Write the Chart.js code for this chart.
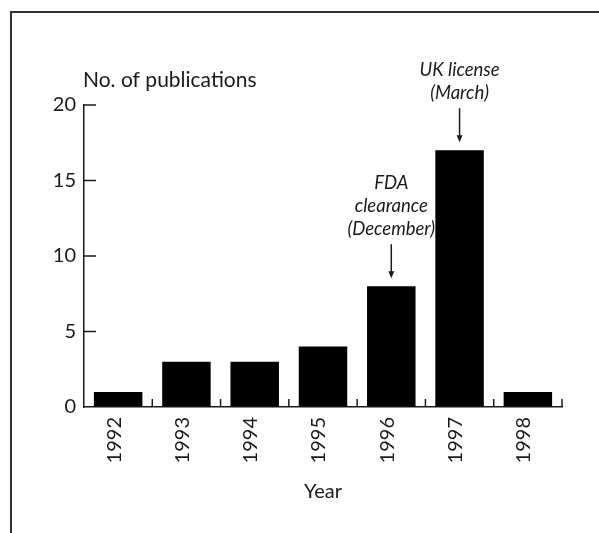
<!DOCTYPE html>
<html>
<head>
<meta charset="utf-8">
<script src="https://cdn.jsdelivr.net/npm/chart.js@4.4.1/dist/chart.umd.min.js"></script>
<style>
  html, body { margin: 0; padding: 0; background: #fff; }
  #wrap { width: 599px; height: 533px; position: relative; }
</style>
</head>
<body>
<div id="wrap"><canvas id="pubs" width="599" height="533"></canvas></div>
<script>
// Publications per year
const years = ['1992', '1993', '1994', '1995', '1996', '1997', '1998'];
const publications = [1, 3, 3, 4, 8, 17, 1];
const yTicks = [0, 5, 10, 15, 20];

// notes with arrows pointing at bars
const noteYears = ['1996', '1997'];
const noteLines = [
  ['FDA', 'clearance', '(December)'],
  ['UK license', '(March)']
];

const yTitle = 'No. of publications';
const xTitle = 'Year';

const ink = '#1a1a1a';

const framePlugin = {
  id: 'frame',
  beforeDraw(chart) {
    const ctx = chart.ctx;
    ctx.save();
    ctx.fillStyle = '#fff';
    ctx.fillRect(0, 0, chart.width, chart.height);
    ctx.strokeStyle = '#333';
    ctx.lineWidth = 2;
    ctx.beginPath();
    ctx.moveTo(11, chart.height);
    ctx.lineTo(11, 12);
    ctx.lineTo(chart.width, 12);
    ctx.stroke();
    ctx.restore();
  }
};

// inward tick marks, y-axis title and the arrow notes
const extrasPlugin = {
  id: 'extras',
  afterDraw(chart) {
    const ctx = chart.ctx;
    const xs = chart.scales.x;
    const ys = chart.scales.y;
    ctx.save();
    ctx.strokeStyle = ink;
    ctx.lineWidth = 1.5;

    // y ticks pointing right
    yTicks.forEach(v => {
      if (v === 0) return;
      const py = ys.getPixelForValue(v);
      ctx.beginPath();
      ctx.moveTo(xs.left, py);
      ctx.lineTo(xs.left + 12, py);
      ctx.stroke();
    });

    // x ticks between categories pointing up
    for (let i = 1; i <= years.length; i++) {
      const px = xs.getPixelForValue(i - 0.5);
      ctx.beginPath();
      ctx.moveTo(px, ys.bottom);
      ctx.lineTo(px, ys.bottom - 8);
      ctx.stroke();
    }

    // y title
    ctx.fillStyle = ink;
    ctx.font = '21px Lato';
    ctx.textAlign = 'left';
    ctx.textBaseline = 'alphabetic';
    ctx.fillText(yTitle, 83, 87);

    // notes
    ctx.font = 'italic 18.5px Lato';
    ctx.textAlign = 'center';
    ctx.textBaseline = 'middle';
    noteYears.forEach((yr, k) => {
      const idx = years.indexOf(yr);
      const px = xs.getPixelForValue(idx);
      const top = ys.getPixelForValue(publications[idx]);
      const tip = top - 8;
      const tail = tip - 34;
      ctx.beginPath();
      ctx.moveTo(px, tail);
      ctx.lineTo(px, tip - 5);
      ctx.stroke();
      ctx.beginPath();
      ctx.moveTo(px, tip);
      ctx.lineTo(px - 3, tip - 7);
      ctx.lineTo(px + 3, tip - 7);
      ctx.closePath();
      ctx.fill();
      const lines = noteLines[k];
      lines.forEach((t, j) => {
        const ly = tail - 15 - (lines.length - 1 - j) * 23;
        ctx.fillText(t, px, ly);
      });
    });
    ctx.restore();
  }
};

Chart.defaults.font.family = 'Lato';
Chart.defaults.color = ink;

new Chart(document.getElementById('pubs'), {
  type: 'bar',
  data: {
    labels: years,
    datasets: [{
      label: 'Publications',
      data: publications,
      backgroundColor: '#000',
      borderColor: '#000',
      borderWidth: 0,
      categoryPercentage: 1,
      barPercentage: 0.71
    }]
  },
  options: {
    responsive: false,
    animation: false,
    devicePixelRatio: 1,
    layout: { padding: { top: 105, right: 37, left: 0, bottom: 0 } },
    plugins: {
      legend: { display: false },
      tooltip: { enabled: false }
    },
    scales: {
      x: {
        afterFit(scale) { scale.height = 126; },
        grid: { display: true, drawOnChartArea: false, drawTicks: false },
        border: { display: true, color: ink, width: 1.5 },
        ticks: {
          font: { size: 20 },
          color: ink,
          minRotation: 90,
          maxRotation: 90,
          padding: 10,
          labelOffset: -4,
          autoSkip: false
        },
        title: {
          display: true,
          text: xTitle,
          font: { size: 20 },
          color: ink,
          padding: { top: 4, bottom: 29 }
        }
      },
      y: {
        min: 0,
        max: 20,
        afterFit(scale) { scale.width = 84; },
        afterBuildTicks(scale) { scale.ticks = yTicks.map(v => ({ value: v })); },
        grid: { display: true, drawOnChartArea: false, drawTicks: false },
        border: { display: true, color: ink, width: 1.5 },
        ticks: {
          font: { size: 20 },
          color: ink,
          padding: 8
        }
      }
    }
  },
  plugins: [framePlugin, extrasPlugin]
});
</script>
</body>
</html>
